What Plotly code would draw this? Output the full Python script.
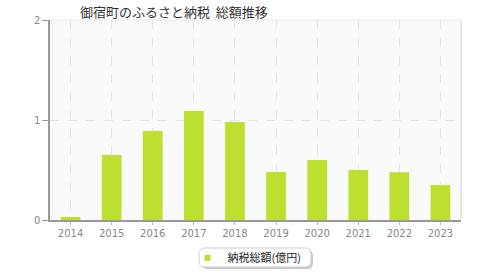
import plotly.graph_objects as go

years = ["2014", "2015", "2016", "2017", "2018", "2019", "2020", "2021", "2022", "2023"]
values = [0.03, 0.65, 0.89, 1.09, 0.98, 0.48, 0.60, 0.50, 0.477, 0.35]
series_name = "納税総額(億円)"
title_text = "御宿町のふるさと納税\u00a0 総額推移"
bar_color = "#bde030"

W, H = 480, 280
L, R, T, B = 50, 19, 20, 60
PW, PH = W - L - R, H - T - B

def px_x(px):
    return (px - L) / PW

def px_y(py):
    return (H - B - py) / PH

fig = go.Figure()
fig.add_trace(go.Bar(
    x=years, y=values, name=series_name,
    marker=dict(color=bar_color, line=dict(width=0)),
    width=0.48,
    showlegend=False,
))
fig.add_trace(go.Scatter(
    x=[None], y=[None], mode="markers", name=series_name,
    marker=dict(symbol="square", size=6, color=bar_color),
    showlegend=True,
))

font_family = "Noto Sans CJK JP, DejaVu Sans, sans-serif"
fig.update_layout(
    width=W, height=H,
    margin=dict(l=L, r=R, t=T, b=B, autoexpand=False),
    paper_bgcolor="white",
    plot_bgcolor="#fafafa",
    title=dict(text=title_text, x=80/W, xanchor="left", y=1-12/H, yanchor="middle",
               font=dict(family=font_family, size=13, color="#333")),
    font=dict(family=font_family, size=10, color="#888"),
    legend=dict(orientation="h", x=247/W, xref="container", xanchor="center",
                y=1-258/H, yref="container", yanchor="middle",
                bgcolor="rgba(0,0,0,0)", borderwidth=0,
                font=dict(family=font_family, size=11, color="#222"),
                itemwidth=30),
    xaxis=dict(
        type="category",
        showline=True, linecolor="#999", linewidth=1.5,
        showgrid=True, gridcolor="#e4e4e4", griddash="dash", gridwidth=1,
        ticks="outside", ticklen=3, tickcolor="#bbb",
        tickfont=dict(family="DejaVu Sans, sans-serif", size=10, color="#888"),
    ),
    yaxis=dict(
        range=[0, 2], tickvals=[0, 1, 2], ticktext=["0", "1", "2"],
        showline=True, linecolor="#999", linewidth=1.5,
        showgrid=True, gridcolor="#e4e4e4", griddash="dash", gridwidth=1,
        ticks="outside", ticklen=6, tickcolor="#999",
        tickfont=dict(family="DejaVu Sans, sans-serif", size=10, color="#888"),
        zeroline=False,
    ),
)

def rounded_rect(x0, y0, x1, y1, r):
    X = lambda v: px_x(v)
    Y = lambda v: px_y(v)
    return (f"M {X(x0+r)},{Y(y0)} L {X(x1-r)},{Y(y0)} Q {X(x1)},{Y(y0)} {X(x1)},{Y(y0+r)} "
            f"L {X(x1)},{Y(y1-r)} Q {X(x1)},{Y(y1)} {X(x1-r)},{Y(y1)} "
            f"L {X(x0+r)},{Y(y1)} Q {X(x0)},{Y(y1)} {X(x0)},{Y(y1-r)} "
            f"L {X(x0)},{Y(y0+r)} Q {X(x0)},{Y(y0)} {X(x0+r)},{Y(y0)} Z")

# legend frame shadow + box
fig.add_shape(type="path", xref="paper", yref="paper",
              path=rounded_rect(202, 250, 313, 269, 6),
              fillcolor="#c8c8c8", line=dict(width=0), layer="below")
fig.add_shape(type="path", xref="paper", yref="paper",
              path=rounded_rect(199, 248, 311, 267, 6),
              fillcolor="white", line=dict(color="#d0d0d0", width=1), layer="below")

fig.add_shape(type="line", xref="paper", yref="paper", x0=1, x1=1, y0=0, y1=1,
              line=dict(color="#e0e0e0", width=1.5))
fig.add_shape(type="line", xref="paper", yref="paper", x0=0, x1=1, y0=1, y1=1,
              line=dict(color="#e8e8e8", width=1))

fig.write_html("out.html")
